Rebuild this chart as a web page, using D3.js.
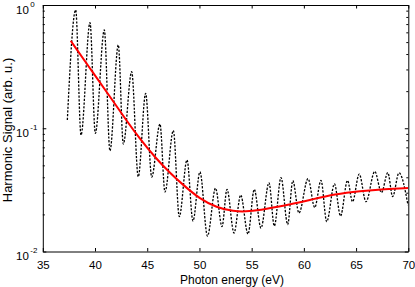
<!DOCTYPE html>
<html><head><meta charset="utf-8">
<script src="https://cdn.jsdelivr.net/npm/d3@7"></script>
<style>
html,body{margin:0;padding:0;background:#fff;}
text{font-family:"Liberation Sans",Arial,Helvetica,sans-serif;fill:#000;}
</style></head>
<body>
<svg id="chart" width="415" height="287"></svg>
<script>
// Harmonic signal (black dotted) : photon energy (eV) and signal, read at extrema
const signalEnergy = [37.35,38.15,38.66,39.52,40.03,40.89,41.43,42.23,42.71,43.51,44.14,44.85,45.43,46.22,46.70,47.50,48.07,48.81,49.38,50.05,50.77,51.54,52.16,52.64,53.31,53.95,54.65,55.25,55.89,56.66,57.17,57.81,58.45,58.94,59.53,60.40,61.04,61.64,62.19,62.93,63.51,64.18,64.66,65.30,65.95,66.79,67.43,68.04,68.50,69.11,69.97];
const signalValue = [0.1167,0.911,0.0881,0.718,0.091,0.627,0.0657,0.474,0.0745,0.2875,0.0404,0.192,0.0402,0.1083,0.0304,0.0959,0.01916,0.0553,0.01768,0.0442,0.01336,0.0326,0.01595,0.0319,0.01413,0.0287,0.01387,0.0319,0.0155,0.0361,0.0161,0.0398,0.01656,0.0375,0.02053,0.039,0.02275,0.0377,0.01745,0.0353,0.0194,0.0377,0.02535,0.0425,0.02535,0.0446,0.0301,0.0436,0.0279,0.0434,0.0238];
// Smooth fit (red)
const fitEnergy = [37.67,39.52,41.43,42.97,44.31,45.75,47.19,48.45,50.05,51.65,53.21,54.84,56.28,58.67,60.59,62.98,65.38,67.77,69.97];
const fitValue = [0.513,0.3054,0.181,0.1167,0.0818,0.0579,0.0433,0.0346,0.02667,0.02275,0.0211,0.0211,0.02212,0.02405,0.0262,0.02927,0.03097,0.03214,0.03274];
// Axes
const xTicks = [35,40,45,50,55,60,65,70];
const yTicks = [0.01,0.1,1];
const yTickExp = ["-2","-1","0"];
const xLabel = "Photon energy (eV)";
const yLabel = "Harmonic Signal (arb. u.)";

const svg = d3.select("#chart");
const L = 42.8, R = 408.3, T = 5, B = 251.5;
const x = d3.scaleLinear().domain([35,70]).range([L,R]);
const y = d3.scaleLog().domain([0.01,1]).range([B,T]);

const minor = [];
[0.01,0.1].forEach(d=>{for(let k=2;k<=9;k++) minor.push(d*k);});

function styleAxis(g){
  g.selectAll("path.domain").attr("stroke","#000").attr("stroke-width",1);
  g.selectAll("line").attr("stroke","#000").attr("stroke-width",1);
}
// bottom
const gb = svg.append("g").attr("transform",`translate(0,${B})`)
  .call(d3.axisBottom(x).tickValues(xTicks).tickSize(-3.5).tickSizeOuter(0).tickPadding(9).tickFormat(d=>d));
styleAxis(gb);
gb.selectAll("text").attr("font-size","11.5px").attr("font-family","Liberation Sans, Arial, sans-serif");
// top
const gt = svg.append("g").attr("transform",`translate(0,${T})`)
  .call(d3.axisTop(x).tickValues(xTicks).tickSize(-3.5).tickSizeOuter(0).tickFormat(""));
styleAxis(gt);
// left major/minor
const gl = svg.append("g").attr("transform",`translate(${L},0)`)
  .call(d3.axisLeft(y).tickValues(yTicks).tickSize(-3.5).tickSizeOuter(0).tickFormat(""));
styleAxis(gl);
const glm = svg.append("g").attr("transform",`translate(${L},0)`)
  .call(d3.axisLeft(y).tickValues(minor).tickSize(-2).tickSizeOuter(0).tickFormat(""));
styleAxis(glm); glm.select("path.domain").remove();
// right
const gr = svg.append("g").attr("transform",`translate(${R},0)`)
  .call(d3.axisRight(y).tickValues(yTicks).tickSize(-3.5).tickSizeOuter(0).tickFormat(""));
styleAxis(gr);
const grm = svg.append("g").attr("transform",`translate(${R},0)`)
  .call(d3.axisRight(y).tickValues(minor).tickSize(-2).tickSizeOuter(0).tickFormat(""));
styleAxis(grm); grm.select("path.domain").remove();

// y tick labels 10^n
yTicks.forEach((v,i)=>{
  const t = svg.append("text").attr("x",16).attr("y",y(v)+8.5).attr("font-size","11.5px");
  t.append("tspan").text("10");
  t.append("tspan").attr("dx",1.5).attr("dy",-7).attr("font-size","8px").text(yTickExp[i]);
});

// data lines
const sig = signalEnergy.map((e,i)=>[e,signalValue[i]]);
const fit = fitEnergy.map((e,i)=>[e,fitValue[i]]);
svg.append("path").datum(sig)
  .attr("d", d3.line().x(d=>x(d[0])).y(d=>y(d[1])).curve(d3.curveMonotoneX))
  .attr("fill","none").attr("stroke","#000").attr("stroke-width",1.3)
  .attr("stroke-dasharray","2.2,1.5");
svg.append("path").datum(fit)
  .attr("d", d3.line().x(d=>x(d[0])).y(d=>y(d[1])).curve(d3.curveBasis))
  .attr("fill","none").attr("stroke","#ff0000").attr("stroke-width",2);

// axis labels
svg.append("text").attr("x",232).attr("y",283.5).attr("text-anchor","middle")
  .attr("font-size","12px").text(xLabel);
svg.append("text").attr("transform","translate(12,130) rotate(-90)")
  .attr("text-anchor","middle").attr("font-size","13px").text(yLabel);
</script>
</body></html>
